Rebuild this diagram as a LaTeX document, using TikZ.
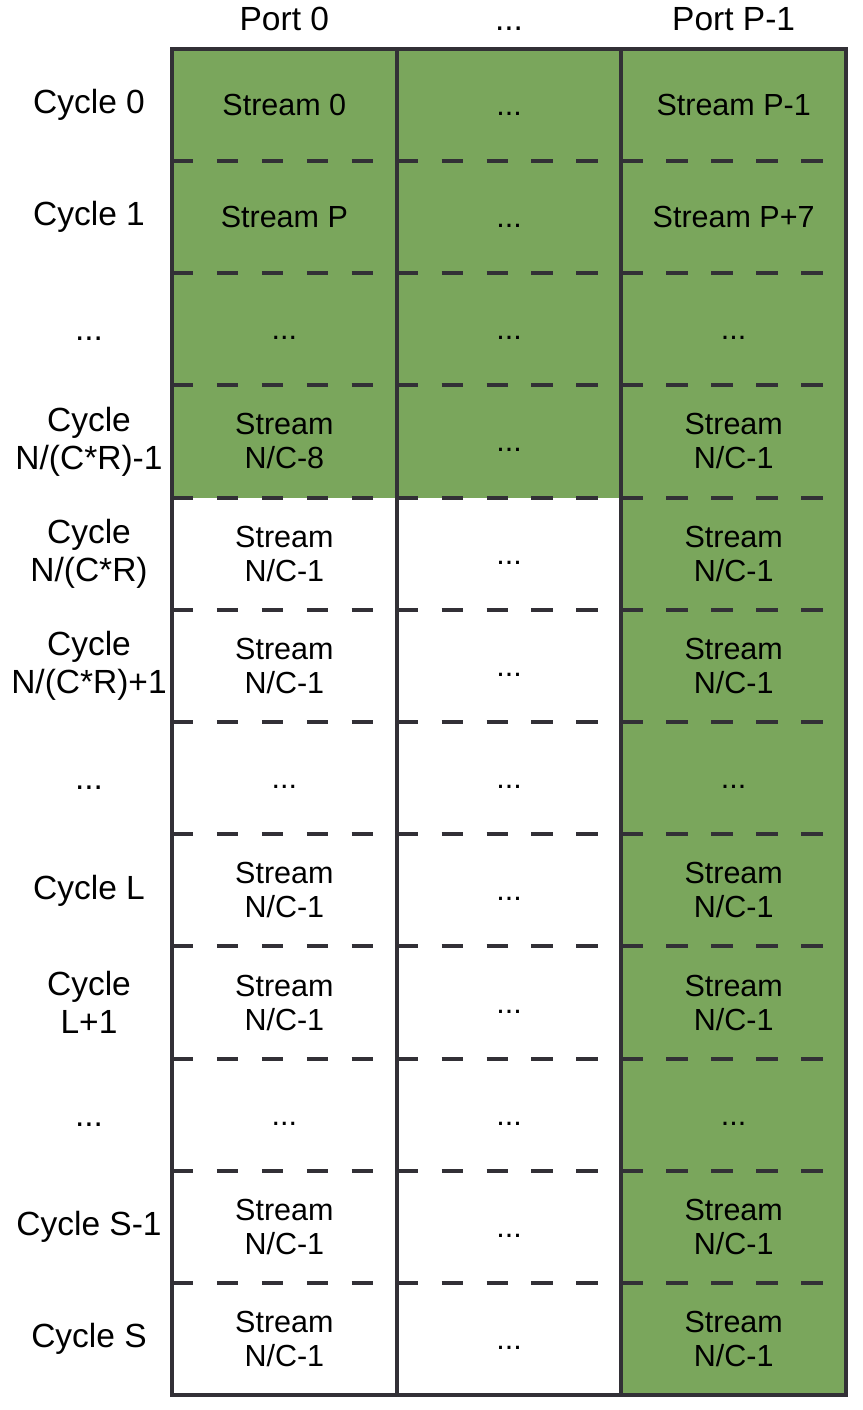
\documentclass[tikz,border=0pt]{standalone}
\usepackage{fontspec}
\setmainfont{Liberation Sans}
\usepackage{xcolor}
\usetikzlibrary{positioning}

\definecolor{cellgreen}{RGB}{122,166,92}
\definecolor{gridline}{RGB}{50,48,54}
\newcommand{\gapdots}{\vphantom{S}...}

\begin{document}
\begin{tikzpicture}[
    x=1pt, y=-1pt,
    font=\fontsize{30.5}{34}\selectfont,
    node distance=0pt,
    cell/.style={minimum width=224.67pt, minimum height=112.22pt, inner sep=0pt, outer sep=0pt, align=center},
    busy/.style={cell, fill=cellgreen},
    idle/.style={cell, fill=white},
    lbl/.style={font=\fontsize{33.5}{38}\selectfont, minimum width=166pt, inner sep=0pt, outer sep=0pt, align=center},
    hdr/.style={font=\fontsize{33.5}{38}\selectfont, minimum height=59.4pt, inner sep=0pt, outer sep=0pt},
    colline/.style={draw=gridline, line width=4pt},
    rowline/.style={draw=gridline, line width=4pt, dash pattern=on 21.5pt off 23.43pt}
]
\useasboundingbox (0,0) rectangle (862,1410);

% Cells
\node[busy] (s0a) at (284.33,104.81) {Stream 0};
\node[busy, right=of s0a] (s0b) {\gapdots};
\node[busy, right=of s0b] (s0c) {Stream P-1};

\node[busy, below=of s0a] (s1a) {Stream P};
\node[busy, right=of s1a] (s1b) {\gapdots};
\node[busy, right=of s1b] (s1c) {Stream P+7};

\node[busy, below=of s1a] (s2a) {\gapdots};
\node[busy, right=of s2a] (s2b) {\gapdots};
\node[busy, right=of s2b] (s2c) {\gapdots};

\node[busy, below=of s2a] (s3a) {Stream\\N/C-8};
\node[busy, right=of s3a] (s3b) {\gapdots};
\node[busy, right=of s3b] (s3c) {Stream\\N/C-1};

\node[idle, below=of s3a] (s4a) {Stream\\N/C-1};
\node[idle, right=of s4a] (s4b) {\gapdots};
\node[busy, right=of s4b] (s4c) {Stream\\N/C-1};

\node[idle, below=of s4a] (s5a) {Stream\\N/C-1};
\node[idle, right=of s5a] (s5b) {\gapdots};
\node[busy, right=of s5b] (s5c) {Stream\\N/C-1};

\node[idle, below=of s5a] (s6a) {\gapdots};
\node[idle, right=of s6a] (s6b) {\gapdots};
\node[busy, right=of s6b] (s6c) {\gapdots};

\node[idle, below=of s6a] (s7a) {Stream\\N/C-1};
\node[idle, right=of s7a] (s7b) {\gapdots};
\node[busy, right=of s7b] (s7c) {Stream\\N/C-1};

\node[idle, below=of s7a] (s8a) {Stream\\N/C-1};
\node[idle, right=of s8a] (s8b) {\gapdots};
\node[busy, right=of s8b] (s8c) {Stream\\N/C-1};

\node[idle, below=of s8a] (s9a) {\gapdots};
\node[idle, right=of s9a] (s9b) {\gapdots};
\node[busy, right=of s9b] (s9c) {\gapdots};

\node[idle, below=of s9a] (s10a) {Stream\\N/C-1};
\node[idle, right=of s10a] (s10b) {\gapdots};
\node[busy, right=of s10b] (s10c) {Stream\\N/C-1};

\node[idle, below=of s10a] (s11a) {Stream\\N/C-1};
\node[idle, right=of s11a] (s11b) {\gapdots};
\node[busy, right=of s11b] (s11c) {Stream\\N/C-1};

% Headers
\node[hdr, above=of s0a] (port0) {Port 0};
\node[hdr, above=of s0b] (portdots) {\gapdots};
\node[hdr, above=of s0c] (portlast) {Port P-1};

% Cycle labels
\node[lbl, left=of s0a] (cyc0) {Cycle 0};
\node[lbl, left=of s1a] (cyc1) {Cycle 1};
\node[lbl, left=of s2a] (cyc2) {\gapdots};
\node[lbl, left=of s3a] (cyc3) {Cycle\\N/(C*R)-1};
\node[lbl, left=of s4a] (cyc4) {Cycle\\N/(C*R)};
\node[lbl, left=of s5a] (cyc5) {Cycle\\N/(C*R)+1};
\node[lbl, left=of s6a] (cyc6) {\gapdots};
\node[lbl, left=of s7a] (cyc7) {Cycle L};
\node[lbl, left=of s8a] (cyc8) {Cycle\\L+1};
\node[lbl, left=of s9a] (cyc9) {\gapdots};
\node[lbl, left=of s10a] (cyc10) {Cycle S-1};
\node[lbl, left=of s11a] (cyc11) {Cycle S};

% Row separators
\draw[rowline] (s0a.south west) -- (s0c.south east);
\draw[rowline] (s1a.south west) -- (s1c.south east);
\draw[rowline] (s2a.south west) -- (s2c.south east);
\draw[rowline] (s3a.south west) -- (s3c.south east);
\draw[rowline] (s4a.south west) -- (s4c.south east);
\draw[rowline] (s5a.south west) -- (s5c.south east);
\draw[rowline] (s6a.south west) -- (s6c.south east);
\draw[rowline] (s7a.south west) -- (s7c.south east);
\draw[rowline] (s8a.south west) -- (s8c.south east);
\draw[rowline] (s9a.south west) -- (s9c.south east);
\draw[rowline] (s10a.south west) -- (s10c.south east);

% Port columns
\draw[colline] (s0b.north west) -- (s11b.south west);
\draw[colline] (s0c.north west) -- (s11c.south west);
\draw[colline] (s0a.north west) rectangle (s11c.south east);
\end{tikzpicture}
\end{document}
